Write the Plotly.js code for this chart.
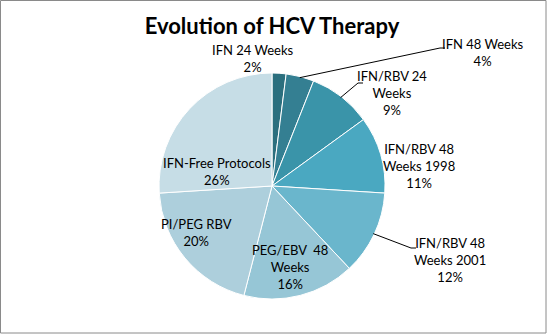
<!DOCTYPE html>
<html><head><meta charset="utf-8">
<script src="https://cdn.plot.ly/plotly-3.0.1.min.js"></script>
<style>html,body{margin:0;padding:0;background:#fff}#c{width:547px;height:334px}</style>
</head><body><div id="c"></div>
<script>
const labels = ["IFN 24 Weeks","IFN 48 Weeks","IFN/RBV 24 Weeks","IFN/RBV 48 Weeks 1998","IFN/RBV 48 Weeks 2001","PEG/EBV  48 Weeks","PI/PEG RBV","IFN-Free Protocols"];
const labelLines = [["IFN 24 Weeks"],["IFN 48 Weeks"],["IFN/RBV 24","Weeks"],["IFN/RBV 48","Weeks 1998"],["IFN/RBV 48","Weeks 2001"],["PEG/EBV  48","Weeks"],["PI/PEG RBV"],["IFN-Free Protocols"]];
const values = [2,4,9,11,12,16,20,26];
const colors = ["#2b6f7e","#347f92","#3a94a9","#4aa8c1","#6ab6cc","#96c6d6","#adcfdc","#c6dde6"];

const W=547,H=334,cx=272,cy=186,R=113;
// label anchor positions (pixels)
const labelPos = [[253,58],[483,53],[392,93],[419,166],[450,260],[290,267],[196,232],[217,172]];
const leaderEnd = [null,[440,48],[358,83],null,[411,248],null,null,null];

const total = values.reduce((a,b)=>a+b,0);
let cum=0;
const annotations=[], shapes=[];
values.forEach((v,i)=>{
  const mid = (cum+v/2)/total; cum+=v;
  const ang = Math.PI/2 - mid*2*Math.PI;
  const pct = Math.round(v/total*100)+"%";
  const [lx,ly] = labelPos[i];
  annotations.push({xref:'paper',yref:'paper',x:lx/W,y:1-ly/H,xanchor:'center',yanchor:'middle',
    text:labelLines[i].concat([pct]).join('<br>'),showarrow:false,font:{family:'Lato, Carlito, sans-serif',size:13,color:'#000'}});
  if(leaderEnd[i]){
    const px=cx+R*Math.cos(ang)*0.99, py=cy-R*Math.sin(ang)*0.99;
    const [ex,ey]=leaderEnd[i];
    shapes.push({type:'path',xref:'paper',yref:'paper',
      path:`M ${px/W},${1-py/H} L ${ex/W},${1-ey/H} L ${(ex+5)/W},${1-ey/H}`,line:{color:'#000',width:1}});
  }
});
shapes.push({type:'rect',xref:'paper',yref:'paper',x0:0.5/W,x1:546/W,y0:1-333/H,y1:1-0.5/H,line:{color:'#8a8a8a',width:1}});

const data=[{type:'pie',labels:labels,values:values,sort:false,direction:'clockwise',rotation:0,
  marker:{colors:colors,line:{color:'#fff',width:1}},textinfo:'none',hoverinfo:'label+percent',
  domain:{x:[(cx-R)/W,(cx+R)/W],y:[1-(cy+R)/H,1-(cy-R)/H]}}];
const layout={width:W,height:H,margin:{l:0,r:0,t:0,b:0},showlegend:false,paper_bgcolor:'#fff',
  title:{text:'<b>Evolution of HCV Therapy</b>',x:272/W,xanchor:'center',y:1-26/H,yanchor:'middle',font:{family:'Lato, Carlito, sans-serif',size:22,color:'#000'}},
  annotations:annotations,shapes:shapes};
Plotly.newPlot('c',data,layout,{displayModeBar:false,staticPlot:true});
</script></body></html>
